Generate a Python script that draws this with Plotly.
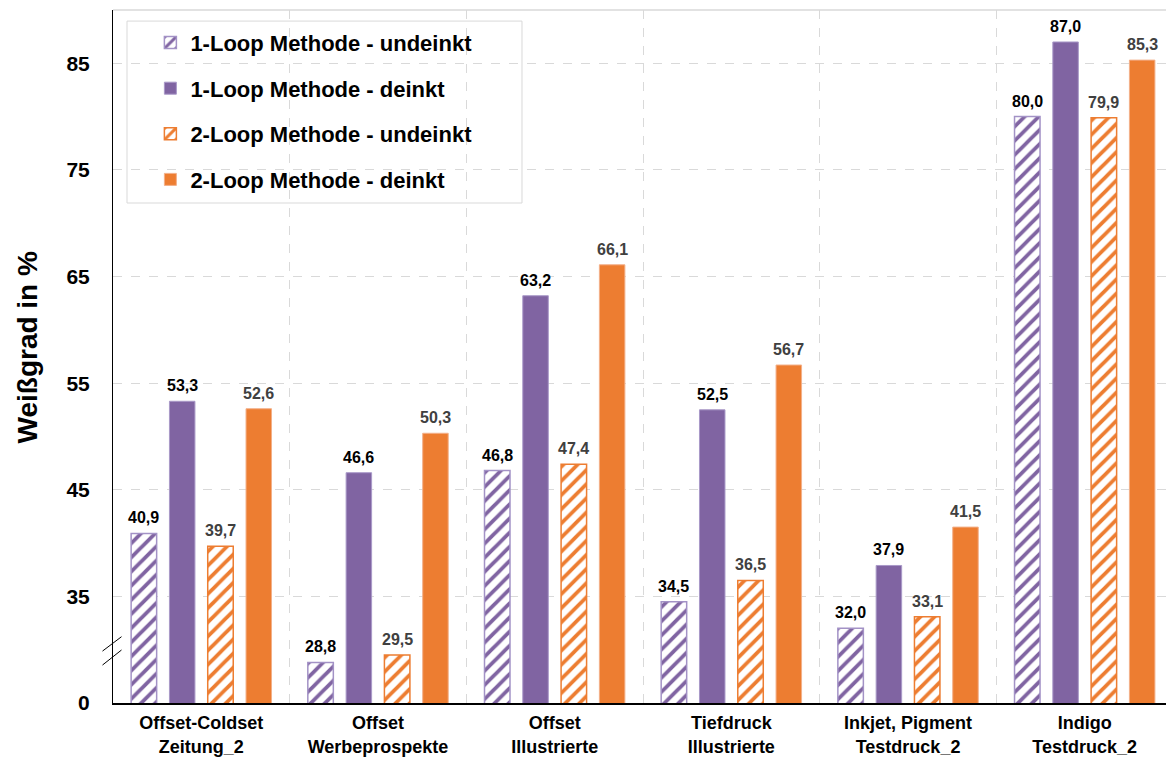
import plotly.graph_objects as go

# Printing processes (x categories)
categories = [
    "Offset-Coldset<br>Zeitung_2",
    "Offset<br>Werbeprospekte",
    "Offset<br>Illustrierte",
    "Tiefdruck<br>Illustrierte",
    "Inkjet, Pigment<br>Testdruck_2",
    "Indigo<br>Testdruck_2",
]

# Brightness values (Weißgrad in %)
loop1_undeinkt = [40.9, 28.8, 46.8, 34.5, 32.0, 80.0]
loop1_deinkt = [53.3, 46.6, 63.2, 52.5, 37.9, 87.0]
loop2_undeinkt = [39.7, 29.5, 47.4, 36.5, 33.1, 79.9]
loop2_deinkt = [52.6, 50.3, 66.1, 56.7, 41.5, 85.3]

series_names = [
    "1-Loop Methode - undeinkt",
    "1-Loop Methode - deinkt",
    "2-Loop Methode - undeinkt",
    "2-Loop Methode - deinkt",
]

# Broken value axis: the lowest tick stands for 0, the scale continues from 35
tick_vals = [25, 35, 45, 55, 65, 75, 85]
tick_text = ["0", "35", "45", "55", "65", "75", "85"]

PURPLE = "#8064A2"
ORANGE = "#ED7D31"
FONT = "Liberation Sans, Arial, sans-serif"

styles = [
    dict(color=PURPLE, hatched=True, edge="#A392C6", label="#000000"),
    dict(color=PURPLE, hatched=False, edge="#A999C8", label="#000000"),
    dict(color=ORANGE, hatched=True, edge=ORANGE, label="#404040"),
    dict(color=ORANGE, hatched=False, edge="#F3B089", label="#404040"),
]

all_series = [loop1_undeinkt, loop1_deinkt, loop2_undeinkt, loop2_deinkt]

fig = go.Figure()
for i, (name, vals, st) in enumerate(zip(series_names, all_series, styles)):
    if st["hatched"]:
        marker = dict(
            color="white",
            pattern=dict(shape="/", fgcolor=st["color"], bgcolor="white",
                         size=10, solidity=0.38, fillmode="replace"),
            line=dict(color=st["edge"], width=1.5),
        )
    else:
        marker = dict(color=st["color"], line=dict(color=st["edge"], width=1))
    fig.add_trace(go.Bar(
        name=name, x=categories, y=vals, marker=marker,
        legendgroup=f"g{i}", cliponaxis=True,
    ))

# Value labels above each bar
pitch_px = 38.3
for i, (vals, st) in enumerate(zip(all_series, styles)):
    for cat, v in zip(categories, vals):
        fig.add_annotation(
            x=cat, y=v, xref="x", yref="y",
            text=f"{v:.1f}".replace(".", ","),
            showarrow=False, xanchor="center", yanchor="bottom",
            xshift=(i - 1.5) * pitch_px, yshift=5,
            font=dict(family=FONT, size=16, color=st["label"], weight="bold"),
        )

# Y axis title
fig.add_annotation(
    text="Weißgrad in %", xref="paper", yref="paper", x=0, y=0.513,
    xanchor="center", yanchor="middle", xshift=-86, textangle=-90,
    showarrow=False, font=dict(family=FONT, size=28, color="black", weight="bold"),
)

# Axis break marks
for y0, y1 in [(29.87, 31.22), (28.56, 29.97)]:
    fig.add_shape(type="line", xref="paper", yref="y", xsizemode="pixel",
                  xanchor=0, x0=-10.5, x1=8.5, y0=y0, y1=y1,
                  line=dict(color="black", width=1))

# Legend frame and top border
fig.add_shape(type="rect", xref="paper", yref="paper",
              x0=0.0133, x1=0.3884, y0=0.7215, y1=0.984,
              line=dict(color="#D9D9D9", width=1), fillcolor="white", layer="below")
fig.add_shape(type="line", xref="paper", yref="paper", x0=0, x1=1, y0=1, y1=1,
              line=dict(color="#D9D9D9", width=1.5))

fig.update_layout(
    width=1166, height=761,
    margin=dict(l=113, r=0, t=10, b=58),
    paper_bgcolor="white", plot_bgcolor="white",
    barmode="group", bargap=0.133, bargroupgap=0.334,
    font=dict(family=FONT, color="black"),
    showlegend=True,
    legend=dict(
        x=0.0355, y=0.983, xanchor="left", yanchor="top",
        bgcolor="rgba(0,0,0,0)", borderwidth=0,
        traceorder="grouped", tracegroupgap=14,
        font=dict(family=FONT, size=22, color="black", weight="bold"),
    ),
    xaxis=dict(
        type="category", range=[-0.5, 5.46], tickson="boundaries",
        showgrid=True, gridcolor="#D9D9D9", griddash="dash", gridwidth=1,
        showline=True, linecolor="black", linewidth=1.5, ticks="",
        tickfont=dict(family=FONT, size=18, color="black", weight="bold"),
        ticklabelstandoff=3, zeroline=False,
    ),
    yaxis=dict(
        range=[25, 90], tickvals=tick_vals, ticktext=tick_text,
        showgrid=True, gridcolor="#D9D9D9", griddash="dash", gridwidth=1,
        showline=True, linecolor="black", linewidth=1, ticks="",
        tickfont=dict(family=FONT, size=21, color="black", weight="bold"),
        ticklabelstandoff=18, zeroline=False,
    ),
)

fig.write_html("out.html")
